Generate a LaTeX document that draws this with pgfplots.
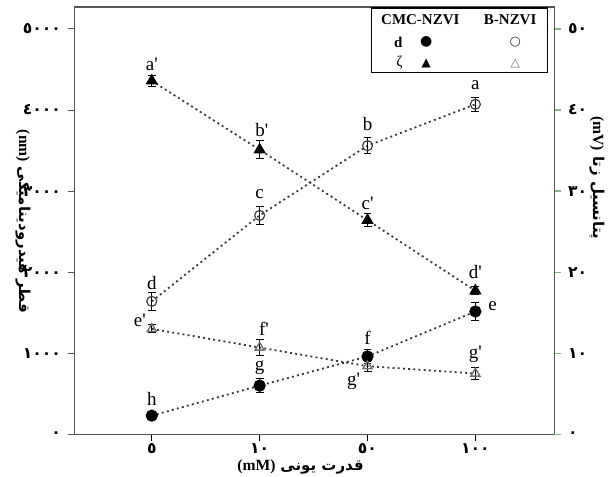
\documentclass[border=0pt]{standalone}
\usepackage{pgfplots}
\pgfplotsset{compat=1.18}
\usepackage{fontspec}
\setmainfont{Liberation Serif}[Ligatures=TeXOff]
\newfontfamily\arabicfont[Script=Arabic]{DejaVu Sans}
\newfontfamily\symfont{DejaVu Sans}
\TeXXeTstate=1
\definecolor{axgray}{RGB}{85,85,85}
\definecolor{tickgreen}{RGB}{140,175,140}
\definecolor{linegray}{RGB}{60,60,60}
\definecolor{trigray}{RGB}{110,110,110}

\pgfplotstableread{
x y e
0 230 45
1 600 90
2 960 90
3 1515 110
}\cmcd
\pgfplotstableread{
x y e
0 1640 110
1 2700 110
2 3560 100
3 4070 90
}\bd
\pgfplotstableread{
x y e
0 43.6 0.7
1 35.1 1.1
2 26.4 0.8
3 17.7 0.5
}\cmcz
\pgfplotstableread{
x y e
0 13.0 0.5
1 10.7 1.0
2 8.4 0.6
3 7.5 0.8
}\bz

\begin{document}
\begin{tikzpicture}
\pgfplotsset{
  every axis/.append style={
    scale only axis, width=240pt, height=214pt,
    xmin=-0.713, xmax=3.73, clip=false,
    axis line style={axgray, line width=0.6pt},
    tick align=outside, major tick length=3.5pt,
    tick label style={font=\arabicfont\bfseries\fontsize{7.8}{8}\selectfont},
  },
  dots/.style={linegray, line width=0.9pt, dash pattern=on 1pt off 1.6pt},
  ebars/.style={error bars/.cd, y dir=both, y explicit,
    error bar style={solid, line width=0.5pt, black},
    error mark options={solid, rotate=90, mark size=2pt, line width=0.5pt, black}},
}
\begin{axis}[name=ax,
  ymin=0, ymax=5271,
  xtick={0,1,2,3},
  xticklabels={٥,١٠,٥٠,١٠٠},
  ytick={0,1000,2000,3000,4000,5000},
  yticklabels={٠,١٠٠٠,٢٠٠٠,٣٠٠٠,٤٠٠٠,٥٠٠٠},
  xticklabel style={yshift=2.5pt},
  tick pos=left,
  ytick style={axgray, line width=0.5pt},
  xtick style={black, line width=0.5pt},
]
\addplot[dots, mark=*, mark size=2.6pt, mark options={solid, fill=black, draw=black}, ebars]
  table[x=x, y=y, y error=e] {\cmcd};
\addplot[dots, mark=o, mark size=2.5pt, mark options={solid, draw=black!75, fill=white, line width=0.6pt}, ebars]
  table[x=x, y=y, y error=e] {\bd};
\begin{scope}[every node/.style={font=\fontsize{9.5}{11}\selectfont, inner sep=0pt}]
\node at (axis cs:3,4310) {a};
\node at (axis cs:2,3830) {b};
\node at (axis cs:1,2968) {c};
\node at (axis cs:0,1872) {d};
\node at (axis cs:3.16,1576) {e};
\node at (axis cs:2,1195) {f};
\node at (axis cs:1,825) {g};
\node at (axis cs:0,431) {h};
\node at (axis cs:0,4557) {a'};
\node at (axis cs:1.02,3756) {b'};
\node at (axis cs:2,2845) {c'};
\node at (axis cs:3,2007) {d'};
\node at (axis cs:-0.11,1404) {e'};
\node at (axis cs:1.04,1305) {f'};
\node at (axis cs:1.87,653) {g'};
\node at (axis cs:3,985) {g'};
\end{scope}
\end{axis}
\begin{axis}[
  ymin=0, ymax=52.71,
  axis x line=none, axis y line*=right,
  ytick={0,10,20,30,40,50},
  yticklabels={٠,١٠,٢٠,٣٠,٤٠,٥٠},
  ytick style={tickgreen, line width=0.6pt},
]
\addplot[dots, mark=triangle*, mark size=2.7pt, mark options={solid, fill=black, draw=black}, ebars]
  table[x=x, y=y, y error=e] {\cmcz};
\addplot[dots, mark=triangle, mark size=2.6pt, mark options={solid, draw=trigray, fill=white, line width=0.7pt}, ebars]
  table[x=x, y=y, y error=e] {\bz};
\end{axis}
\begin{scope}[shift={(ax.south west)}, x=1pt, y=1pt]
  % axis titles
  \node[rotate=-90, inner sep=0pt] at (-26,106.5) {{\bfseries\fontsize{7.8}{9}\selectfont (nm)} {\arabicfont\bfseries\fontsize{7.5}{9}\selectfont\beginR قطر هیدرودینامیکی\endR}};
  \node[rotate=-90, inner sep=0pt] at (261.5,128.5) {{\bfseries\fontsize{7.8}{9}\selectfont (mV)} {\arabicfont\bfseries\fontsize{7.5}{9}\selectfont\beginR پتانسیل زتا\endR}};
  \node[inner sep=0pt] at (113,-16.5) {{\bfseries\fontsize{7.8}{9}\selectfont (mM)} {\arabicfont\bfseries\fontsize{7.5}{9}\selectfont\beginR قدرت یونی\endR}};
  % legend box
  \draw[black, line width=0.6pt, fill=white] (148.5,181) rectangle (236.5,213.5);
  \begin{scope}[every node/.style={inner sep=0pt}]
  \node[font=\bfseries\fontsize{7.5}{9}\selectfont] at (173,207.5) {CMC-NZVI};
  \node[font=\bfseries\fontsize{7.5}{9}\selectfont] at (218,207.5) {B-NZVI};
  \node[font=\bfseries\fontsize{7.5}{9}\selectfont] at (162,196.5) {d};
  \node[font=\symfont\fontsize{7}{8}\selectfont] at (176,196.5) {●};
  \node[font=\symfont\fontsize{6.5}{8}\selectfont, text=black!80] at (220.5,196.5) {○};
  \node[font=\fontsize{7.5}{9}\selectfont] at (162.5,186) {ζ};
  \node[font=\symfont\fontsize{6}{8}\selectfont] at (176,186) {▲};
  \node[font=\symfont\fontsize{6}{8}\selectfont, text=trigray] at (220.5,186) {△};
  \end{scope}
\end{scope}
\pgfresetboundingbox
\path[use as bounding box] ([shift={(-37.5pt,-21pt)}]ax.south west) rectangle ([shift={(30pt,3.5pt)}]ax.north east);
\end{tikzpicture}
\end{document}
